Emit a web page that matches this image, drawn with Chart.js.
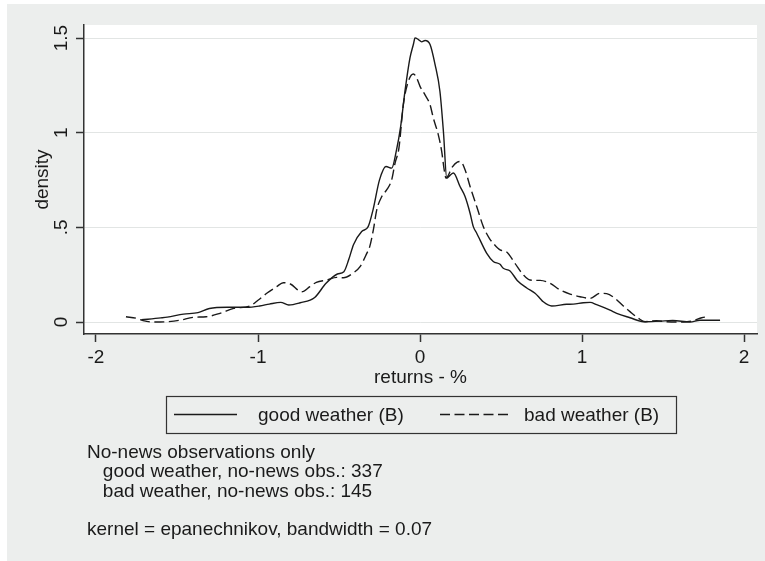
<!DOCTYPE html>
<html>
<head>
<meta charset="utf-8">
<script src="https://cdn.jsdelivr.net/npm/chart.js@4"></script>
<style>
  html, body { margin: 0; padding: 0; background: #fff; }
</style>
</head>
<body>
<canvas id="densityChart" width="765" height="561"></canvas>
<script>
// kernel density of returns, good vs bad weather
const xTicks = [-2, -1, 0, 1, 2];
const xTickLabels = ['-2', '-1', '0', '1', '2'];
const yTicks = [0, 0.5, 1, 1.5];
const yTickLabels = ['0', '.5', '1', '1.5'];

const goodX = [-1.72, -1.60, -1.56, -1.46, -1.37, -1.30, -1.19, -1.07, -0.99, -0.93, -0.86, -0.81, -0.74, -0.65,
  -0.58, -0.51, -0.47, -0.44, -0.41, -0.36, -0.32, -0.29, -0.25, -0.21, -0.175, -0.145, -0.12, -0.093, -0.062,
  -0.04, -0.031, -0.01, 0.01, 0.031, 0.062, 0.093, 0.123, 0.145, 0.165, 0.185, 0.206, 0.247, 0.278, 0.309,
  0.329, 0.35, 0.37, 0.412, 0.452, 0.494, 0.514, 0.556, 0.60, 0.659, 0.71, 0.741, 0.761, 0.813, 0.905, 0.946,
  1.008, 1.05, 1.09, 1.173, 1.214, 1.296, 1.38, 1.48, 1.56, 1.667, 1.728, 1.852];
const goodY = [0.012, 0.022, 0.026, 0.042, 0.05, 0.072, 0.078, 0.078, 0.085, 0.095, 0.104, 0.09, 0.102, 0.13,
  0.205, 0.254, 0.266, 0.33, 0.41, 0.478, 0.504, 0.593, 0.751, 0.822, 0.813, 0.91, 1.03, 1.218, 1.395,
  1.47, 1.501, 1.492, 1.48, 1.487, 1.466, 1.36, 1.218, 1.0, 0.76, 0.775, 0.787, 0.716, 0.663, 0.575,
  0.504, 0.469, 0.434, 0.363, 0.32, 0.305, 0.284, 0.27, 0.22, 0.18, 0.152, 0.125, 0.107, 0.085, 0.094, 0.095,
  0.102, 0.104, 0.092, 0.063, 0.046, 0.023, 0.002, 0.005, 0.008, 0.0, 0.01, 0.01];

const badX = [-1.815, -1.75, -1.71, -1.65, -1.56, -1.48, -1.40, -1.32, -1.235, -1.15, -1.05, -1.0, -0.946, -0.885,
  -0.844, -0.80, -0.73, -0.68, -0.64, -0.576, -0.514, -0.473, -0.411, -0.37, -0.33, -0.31, -0.288, -0.267,
  -0.236, -0.206, -0.175, -0.154, -0.13, -0.103, -0.072, -0.041, -0.021, 0.0, 0.031, 0.062, 0.082, 0.113,
  0.134, 0.15, 0.16, 0.20, 0.23, 0.25, 0.278, 0.309, 0.35, 0.391, 0.43, 0.452, 0.494, 0.535, 0.586, 0.638,
  0.679, 0.741, 0.802, 0.864, 0.926, 0.988, 1.049, 1.111, 1.152, 1.204, 1.255, 1.296, 1.348, 1.389, 1.46,
  1.522, 1.626, 1.687, 1.739, 1.78];
const badY = [0.028, 0.02, 0.008, 0.0, 0.002, 0.01, 0.025, 0.028, 0.046, 0.072, 0.085, 0.115, 0.152, 0.187,
  0.208, 0.201, 0.16, 0.187, 0.21, 0.222, 0.236, 0.234, 0.26, 0.293, 0.36, 0.40, 0.487, 0.593,
  0.663, 0.698, 0.751, 0.84, 0.92, 1.148, 1.272, 1.31, 1.29, 1.245, 1.2, 1.148, 1.078, 0.989,
  0.90, 0.80, 0.76, 0.82, 0.845, 0.848, 0.804, 0.716, 0.61, 0.504, 0.44, 0.416, 0.381, 0.37, 0.31, 0.249,
  0.222, 0.22, 0.205, 0.17, 0.148, 0.134, 0.125, 0.152, 0.15, 0.125, 0.085, 0.055, 0.02, 0.002, 0.007,
  0.002, 0.0, 0.007, 0.023, 0.028];

const seriesLabels = ['good weather (B)', 'bad weather (B)'];
const noteLines = [
  'No-news observations only',
  '   good weather, no-news obs.: 337',
  '   bad weather, no-news obs.: 145',
  '',
  'kernel = epanechnikov, bandwidth = 0.07'
];

const FONT = 'Arial, "Liberation Sans", Helvetica, sans-serif';
const INK = '#1a1a1a';
const AXIS = '#333';

const toPoints = (xs, ys) => xs.map((x, i) => ({ x, y: ys[i] }));

// stata-like grey frame with a white plot region
const backdrop = {
  id: 'backdrop',
  beforeDraw(chart) {
    const { ctx, chartArea: a } = chart;
    ctx.save();
    ctx.fillStyle = '#eceeed';
    ctx.fillRect(7, 4, chart.width - 7, chart.height - 4);
    ctx.fillStyle = '#fff';
    ctx.fillRect(a.left, a.top, a.right - a.left, a.bottom - a.top);
    ctx.restore();
  }
};

// boxed legend + note block under the x axis
const legendAndNotes = {
  id: 'legendAndNotes',
  afterDraw(chart) {
    const { ctx } = chart;
    const ds = chart.data.datasets;
    ctx.save();
    ctx.font = '19px ' + FONT;
    ctx.textBaseline = 'middle';
    ctx.fillStyle = INK;

    const top = 396, bottom = 433, mid = (top + bottom) / 2;
    ctx.strokeStyle = AXIS;
    ctx.lineWidth = 1.2;
    ctx.strokeRect(166.5, top + 0.5, 510, bottom - top);

    const items = [{ x0: 174, x1: 237, tx: 258 }, { x0: 440, x1: 510, tx: 524 }];
    items.forEach((it, i) => {
      ctx.strokeStyle = ds[i].borderColor;
      ctx.lineWidth = ds[i].borderWidth;
      ctx.setLineDash(ds[i].borderDash || []);
      ctx.beginPath();
      ctx.moveTo(it.x0, mid);
      ctx.lineTo(it.x1, mid);
      ctx.stroke();
      ctx.setLineDash([]);
      ctx.textAlign = 'left';
      ctx.fillText(ds[i].label, it.tx, mid + 1);
    });

    const lineY = [453, 472, 492, 511, 530];
    noteLines.forEach((t, i) => { if (t) ctx.fillText(t, 87, lineY[i]); });
    ctx.restore();
  }
};

const tickFont = { family: FONT, size: 19 };

new Chart(document.getElementById('densityChart'), {
  type: 'line',
  data: {
    datasets: [
      {
        label: seriesLabels[0],
        data: toPoints(goodX, goodY),
        borderColor: INK,
        borderWidth: 1.4,
        pointRadius: 0,
        cubicInterpolationMode: 'monotone',
        fill: false
      },
      {
        label: seriesLabels[1],
        data: toPoints(badX, badY),
        borderColor: INK,
        borderWidth: 1.4,
        borderDash: [10, 4.5],
        pointRadius: 0,
        cubicInterpolationMode: 'monotone',
        fill: false
      }
    ]
  },
  options: {
    responsive: false,
    animation: false,
    layout: { padding: { left: 7, top: 25, right: 8, bottom: 172 } },
    plugins: { legend: { display: false }, tooltip: { enabled: false } },
    scales: {
      x: {
        type: 'linear',
        min: -2.074,
        max: 2.08,
        afterBuildTicks: s => { s.ticks = xTicks.map(v => ({ value: v })); },
        afterFit: s => { s.height = 55; },
        grid: { drawOnChartArea: false, drawTicks: true, tickLength: 8, tickColor: AXIS, tickWidth: 1.5 },
        border: { display: true, color: AXIS, width: 1.5 },
        ticks: {
          padding: 4,
          color: INK,
          font: tickFont,
          maxRotation: 0,
          callback: (v, i) => xTickLabels[i]
        },
        title: { display: true, text: 'returns - %', color: INK, font: tickFont, padding: { top: 0, bottom: 0 } }
      },
      y: {
        min: -0.063,
        max: 1.569,
        afterBuildTicks: s => { s.ticks = yTicks.map(v => ({ value: v })); },
        afterFit: s => { s.width = 77; },
        grid: { color: '#e2e5e4', lineWidth: 1, tickLength: 8, tickColor: AXIS, tickWidth: 1.5 },
        border: { display: true, color: AXIS, width: 1.5 },
        ticks: {
          padding: 1,
          color: INK,
          font: tickFont,
          minRotation: 90,
          maxRotation: 90,
          crossAlign: 'center',
          callback: (v, i) => yTickLabels[i]
        },
        title: { display: true, text: 'density', color: INK, font: tickFont, padding: { top: 24, bottom: 0 } }
      }
    }
  },
  plugins: [backdrop, legendAndNotes]
});
</script>
</body>
</html>
